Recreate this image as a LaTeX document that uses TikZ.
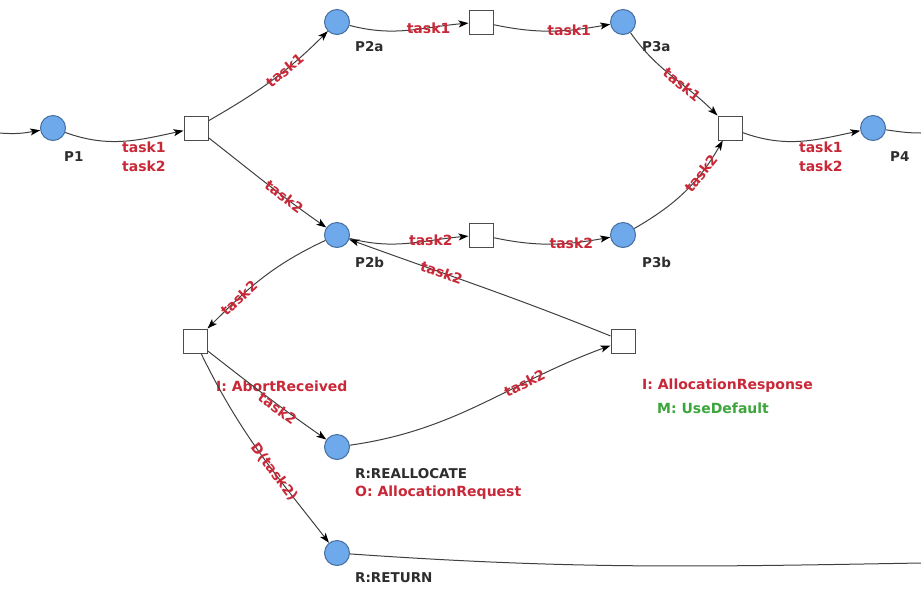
\documentclass[tikz,border=0pt]{standalone}
\usepackage{fontspec}
\setmainfont{DejaVu Sans}
\usetikzlibrary{arrows.meta}
\definecolor{lblred}{RGB}{200,40,55}
\definecolor{placefill}{RGB}{110,170,235}
\definecolor{placedraw}{RGB}{70,110,160}
\definecolor{lblgreen}{RGB}{60,165,60}
\definecolor{nmgray}{RGB}{45,45,45}
\begin{document}
\begin{tikzpicture}[x=1pt,y=-1pt,
  place/.style={circle,draw=placedraw,fill=placefill,minimum size=25pt,inner sep=0pt,line width=1pt},
  trans/.style={rectangle,draw=black!70,fill=white,minimum size=24pt,inner sep=0pt,line width=1pt},
  arc/.style={draw=black!75,line width=1pt,-{Stealth[length=10pt,width=7pt,inset=2.5pt,color=black]}},
  plainarc/.style={draw=black!75,line width=1pt},
  lbl/.style={font=\fontsize{14}{19}\selectfont\bfseries,text=lblred,inner sep=0.5pt},
  nm/.style={font=\fontsize{13.5}{19}\selectfont\bfseries,text=nmgray,anchor=west,inner sep=0pt},
  gl/.style={font=\fontsize{14}{19}\selectfont\bfseries,text=lblgreen,anchor=west,inner sep=0pt}
]
\useasboundingbox (0,0) rectangle (921,590);
% places
\node[place] (P1) at (53,128) {};
\node[place] (P2a) at (337,22) {};
\node[place] (P3a) at (623,22) {};
\node[place] (P4) at (873,128) {};
\node[place] (P2b) at (337,235) {};
\node[place] (P3b) at (623,235) {};
\node[place] (PR) at (337,447) {};
\node[place] (PRet) at (337,553) {};
% transitions
\node[trans] (T1) at (196,128) {};
\node[trans] (T2a) at (481,22) {};
\node[trans] (T3) at (730,128) {};
\node[trans] (T2b) at (481,235) {};
\node[trans] (T4) at (195,341) {};
\node[trans] (T5) at (623,341) {};
% free ends
\coordinate (inL) at (0,133);
\coordinate (outR1) at (921,133);
\coordinate (outR2) at (921,563);
% place names
\node[nm] (P1l) at (64,157) {P1};
\node[nm] (P2al) at (355,47) {P2a};
\node[nm] (P3al) at (642,47) {P3a};
\node[nm] (P4l) at (890,157) {P4};
\node[nm] (P2bl) at (355,262) {P2b};
\node[nm] (P3bl) at (642,262) {P3b};
\node[nm] (PRl) at (355,474) {R:REALLOCATE};
\node[lbl,anchor=west,inner sep=0pt] (PRo) at (355,493) {O: AllocationRequest};
\node[nm] (PRetl) at (355,578) {R:RETURN};
% transition labels
\node[lbl,anchor=west,inner sep=0pt] (T4l) at (216,386) {I: AbortReceived};
\node[lbl,anchor=west,inner sep=0pt] (T5l) at (642,386) {I: AllocationResponse};
\node[gl] (T5m) at (657,408) {M: UseDefault};
% arcs
\draw[arc] (inL) to[out=-5,in=190] (P1);
\draw[arc] (P1) to[out=-20,in=192] node[lbl,pos=0.68,anchor=north,align=center,yshift=-2pt] {task1\\task2} (T1);
\draw[arc] (T1) to[out=30,in=225] node[lbl,pos=0.62,sloped] {task1} (P2a);
\draw[arc] (P2a) to[out=-15,in=185] node[lbl,pos=0.68] {task1} (T2a);
\draw[arc] (T2a) to[out=-12,in=190] node[lbl,pos=0.66] {task1} (P3a);
\draw[arc] (P3a) to[out=-55,in=135] node[lbl,pos=0.62,sloped] {task1} (T3);
\draw[arc] (T3) to[out=-20,in=192] node[lbl,pos=0.68,anchor=north,align=center,yshift=-2pt] {task1\\task2} (P4);
\draw[plainarc] (P4) to[out=-8,in=180] (outR1);
\draw[arc] (T1) to[out=-38,in=145] node[lbl,pos=0.66,sloped] {task2} (P2b);
\draw[arc] (P2b) to[out=-15,in=185] node[lbl,pos=0.7] {task2} (T2b);
\draw[arc] (T2b) to[out=-12,in=190] node[lbl,pos=0.68] {task2} (P3b);
\draw[arc] (P3b) to[out=30,in=240] node[lbl,pos=0.7,sloped] {task2} (T3);
\draw[arc] (P2b) to[out=205,in=45] node[lbl,pos=0.72,sloped] {task2} (T4);
\draw[arc] (T4) to[out=-38,in=145] node[lbl,pos=0.62,sloped,yshift=-3pt] {task2} (PR);
\draw[arc] (T4) to[out=-64,in=128] node[lbl,pos=0.62,sloped] {D(task2)} (PRet);
\draw[arc] (PR) to[out=8,in=200] node[lbl,pos=0.68,sloped] {task2} (T5);
\draw[arc] (T5) to[out=158,in=-20] node[lbl,pos=0.66,sloped] {task2} (P2b);
\draw[plainarc] (PRet) to[out=-4,in=181] (outR2);
\end{tikzpicture}
\end{document}
